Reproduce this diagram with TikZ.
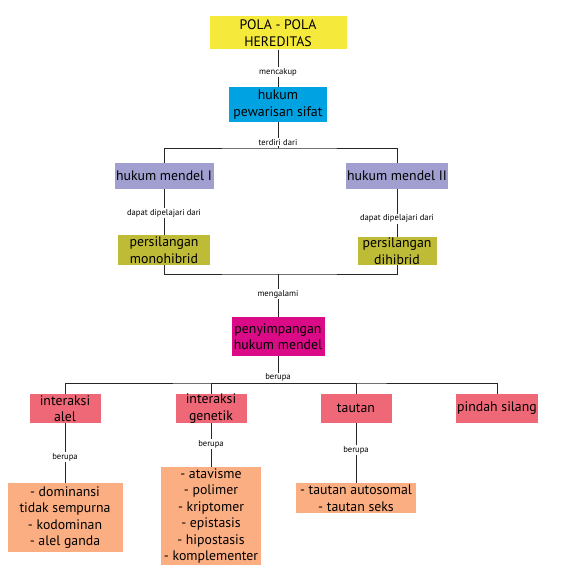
\documentclass[tikz,border=0pt]{standalone}
\usepackage{fontspec}
\setmainfont{PT Sans}
\usetikzlibrary{positioning}
\definecolor{cyel}{RGB}{245,233,60}
\definecolor{cblue}{RGB}{0,162,225}
\definecolor{clav}{RGB}{160,159,208}
\definecolor{colive}{RGB}{190,187,54}
\definecolor{cmag}{RGB}{219,10,134}
\definecolor{cred}{RGB}{239,104,120}
\definecolor{cpeach}{RGB}{251,174,130}

\begin{document}
\begin{tikzpicture}[x=1pt,y=-1pt,
  box/.style={align=center,inner sep=0pt,font=\fontsize{13.8}{16.5}\selectfont},
  lbl/.style={fill=white,inner sep=1pt,font=\fontsize{8.6}{10}\selectfont},
  link/.style={line width=0.9pt,draw=black!85}]
  \useasboundingbox (0,0) rectangle (567,567);

  \node[box,fill=cyel,minimum width=137,minimum height=33] (pola) at (278,33) {POLA - POLA\\HEREDITAS};
  \node[box,fill=cblue,minimum width=98,minimum height=35] (pewarisan) at (278,104.5) {hukum\\pewarisan sifat};
  \node[box,fill=clav,minimum width=99,minimum height=26] (mendel1) at (164,176) {hukum mendel I};
  \node[box,fill=clav,minimum width=102,minimum height=26] (mendel2) at (397,176) {hukum mendel II};
  \node[box,fill=colive,minimum width=92,minimum height=30] (mono) at (164,250) {persilangan\\monohibrid};
  \node[box,fill=colive,minimum width=79,minimum height=28] (di) at (397,251) {persilangan\\dihibrid};
  \node[box,fill=cmag,minimum width=93,minimum height=39] (penyimpangan) at (278,336.5) {penyimpangan\\hukum mendel};
  \node[box,fill=cred,minimum width=71,minimum height=29] (alel) at (65,408.5) {interaksi\\alel};
  \node[box,fill=cred,minimum width=71,minimum height=29] (genetik) at (211,408.5) {interaksi\\genetik};
  \node[box,fill=cred,minimum width=71,minimum height=29] (tautan) at (356,408.5) {tautan};
  \node[box,fill=cred,minimum width=82,minimum height=29] (pindah) at (497,408.5) {pindah silang};
  \node[box,fill=cpeach,minimum width=115,minimum height=69] (alellist) at (65,517.5) {- dominansi\\tidak sempurna\\- kodominan\\- alel ganda};
  \node[box,fill=cpeach,minimum width=100,minimum height=98] (genlist) at (211,516) {- atavisme\\- polimer\\- kriptomer\\- epistasis\\- hipostasis\\- komplementer};
  \node[box,fill=cpeach,minimum width=120,minimum height=30] (tautlist) at (356,498) {- tautan autosomal\\- tautan seks};

  \coordinate (split) at (278,148);
  \coordinate (join) at (278,274);
  \coordinate (fan) at (278,383);

  \draw[link] (pola) -- node[lbl,pos=0.6] {mencakup} (pewarisan);
  \draw[link] (pewarisan) -- node[lbl,pos=0.77] {terdiri dari} (split);
  \draw[link] (mendel1) |- (split) -| (mendel2);
  \draw[link] (mendel1) -- node[lbl,pos=0.52] {dapat dipelajari dari} (mono);
  \draw[link] (mendel2) -- node[lbl,pos=0.62] {dapat dipelajari dari} (di);
  \draw[link] (mono) |- (join) -| (di);
  \draw[link] (join) -- node[lbl,pos=0.47] {mengalami} (penyimpangan);
  \draw[link] (penyimpangan) -- node[lbl,pos=0.8] {berupa} (fan);
  \draw[link] (alel) |- (fan) -| (pindah);
  \draw[link] (fan) -| (genetik);
  \draw[link] (fan) -| (tautan);
  \draw[link] (alel) -- node[lbl,pos=0.57] {berupa} (alellist);
  \draw[link] (genetik) -- node[lbl,pos=0.48] {berupa} (genlist);
  \draw[link] (tautan) -- node[lbl,pos=0.45] {berupa} (tautlist);
\end{tikzpicture}
\end{document}
